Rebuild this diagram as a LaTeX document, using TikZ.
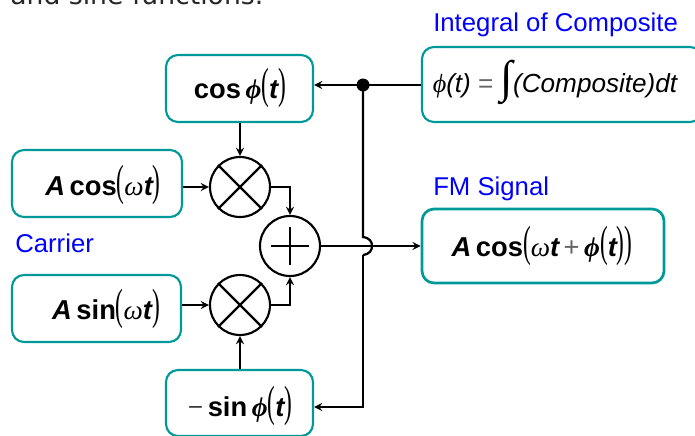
\documentclass[tikz,border=0pt]{standalone}
\usepackage{fontspec}
\setmainfont{Liberation Sans}
\newfontfamily\symfont{Liberation Serif}
\newfontfamily\topfont{DejaVu Sans}
\usetikzlibrary{calc}

% tall thin bracket and the greek letters of the formulas
\newcommand{\lbr}{\scalebox{0.85}[1.6]{\mdseries\upshape\symfont(}}
\newcommand{\rbr}{\scalebox{0.85}[1.6]{\mdseries\upshape\symfont)}}
\newcommand{\myPhi}{{\symfont\itshape\bfseries ϕ}}
\newcommand{\myOmega}{{\symfont\itshape\mdseries ω}}

\tikzset{
    blockbox/.style={draw=boxteal,line width=1.6pt,rounded corners=9pt,inner sep=0pt,fill=white},
    mixer/.style={draw,circle,line width=1.6pt,minimum size=45pt,inner sep=0pt},
    wire/.style={line width=1.7pt},
    arrowwire/.style={wire,-stealth},
    caption/.style={text=capblue,font=\fontsize{19.3}{21}\selectfont,inner sep=0pt},
    formula/.style={font=\fontsize{20.5}{24}\bfseries\selectfont,inner sep=0pt}
}
\definecolor{boxteal}{HTML}{009999}
\definecolor{capblue}{HTML}{0000FF}

\begin{document}
\begin{tikzpicture}[x=0.75pt,y=-0.75pt]
    \clip[use as bounding box] (0,0) rectangle (695,435);

    % text cut off by the top edge
    \node (intro) [anchor=base west,inner sep=0pt,font=\topfont\fontsize{20}{21}\selectfont,text=black!85] at (10,5) {and sine functions.};

    % boxes
    \node (cosbox) [blockbox,minimum width=110.25pt,minimum height=50.25pt] at (239.5,88.5) {};
    \node (acosbox) [blockbox,minimum width=127.5pt,minimum height=50.25pt] at (97,183.5) {};
    \node (asinbox) [blockbox,minimum width=126.75pt,minimum height=50.25pt] at (96.5,308.5) {};
    \node (sinbox) [blockbox,minimum width=110.25pt,minimum height=49.5pt] at (239.5,403) {};
    \node (intbox) [blockbox,minimum width=210pt,minimum height=56.25pt] at (562,84.5) {};
    \node (fmbox) [blockbox,line width=2pt,minimum width=181.5pt,minimum height=55.5pt] at (543,246) {};

    % formulas
    \node (costext) [formula] at (240,88) {cos\,\myPhi\lbr{\itshape t}\rbr};
    \node (acostext) [formula] at (103,185) {{\itshape A}\,cos\lbr\myOmega{\itshape t}\rbr};
    \node (asintext) [formula] at (106,309) {{\itshape A}\,sin\lbr\myOmega{\itshape t}\rbr};
    \node (sintext) [formula] at (240,406) {\textmd{\symfont\char"2212}\,sin\,\myPhi\lbr{\itshape t}\rbr};
    \node (inttext) [inner sep=0pt,font=\itshape\fontsize{19.6}{20}\selectfont] at (555,82) {{\symfont ϕ}(t) {\upshape\color{black!60}=} {\fontsize{34}{34}\selectfont\symfont\upshape∫}(Composite)dt};
    \node (fmtext) [formula] at (542,246) {{\itshape A}\,cos\lbr\myOmega{\itshape t}\,{\mdseries\color{black!60}+}\,\myPhi\lbr{\itshape t}\rbr\rbr};

    % captions
    \node (intcap) [caption,anchor=base west] at (433,32) {Integral of Composite};
    \node (fmcap) [caption,anchor=base west] at (433,195) {FM Signal};
    \node (carriercap) [caption,anchor=base west] at (15,252) {Carrier};

    % mixers and adder
    \node (mixtop) [mixer] at (240,187) {};
    \node (mixbot) [mixer] at (240,305) {};
    \node (adder) [mixer] at (290,246) {};
    \foreach \m in {mixtop,mixbot} {
        \draw[line width=1.6pt] (\m.45) -- (\m.225);
        \draw[line width=1.6pt] (\m.135) -- (\m.315);
    }
    \draw[line width=1.6pt] ($(adder)+(-19,0)$) -- ($(adder)+(19,0)$);
    \draw[line width=1.6pt] ($(adder)+(0,-19)$) -- ($(adder)+(0,19)$);

    % free ends and junction
    \coordinate (branch) at (363,85);
    \coordinate (hoptop) at (363,237);
    \coordinate (hopbot) at (363,255);
    \fill (branch) circle[radius=6.5];

    % connectors
    \draw[arrowwire] (intbox.west |- branch) -- (cosbox.east |- branch);
    \draw[arrowwire] (cosbox.south -| mixtop) -- (mixtop.north);
    \draw[arrowwire] (acosbox.east |- mixtop) -- (mixtop.west);
    \draw[arrowwire] (asinbox.east |- mixbot) -- (mixbot.west);
    \draw[arrowwire] (sinbox.north -| mixbot) -- (mixbot.south);
    \draw[arrowwire] (mixtop.east) -| (adder.north);
    \draw[arrowwire] (mixbot.east) -| (adder.south);
    \draw[arrowwire] (adder.east) -- (fmbox.west);
    \draw[wire] (branch) -- (hoptop) .. controls (370,238) and (372,242) .. (372,246)
        .. controls (372,250) and (370,254) .. (hopbot);
    \draw[arrowwire] (hopbot) |- (sinbox.east |- 0,407);
\end{tikzpicture}
\end{document}
